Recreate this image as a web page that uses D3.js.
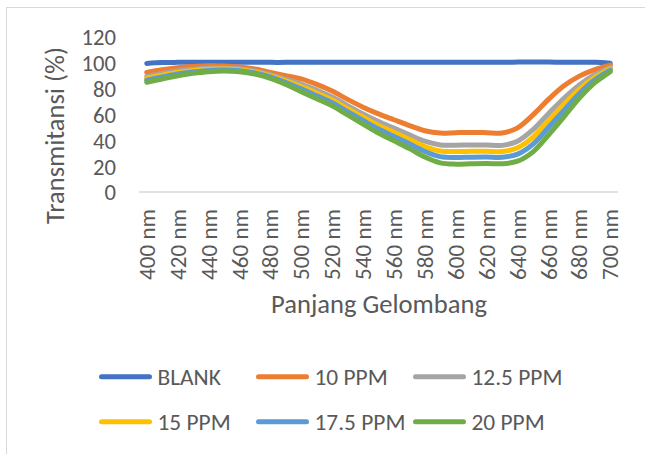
<!DOCTYPE html>
<html>
<head>
<meta charset="utf-8">
<script src="https://cdn.jsdelivr.net/npm/d3@7"></script>
<style>
  html, body { margin: 0; padding: 0; background: #ffffff; }
  svg { display: block; }
</style>
</head>
<body>
<svg id="chart" width="645" height="454"></svg>
<script>
// ---- data ----
const wavelengths = [400,410,420,430,440,450,460,470,480,490,500,510,520,530,540,550,560,570,580,590,600,610,620,630,640,650,660,670,680,690,700];
const tickLabels = ["400 nm","420 nm","440 nm","460 nm","480 nm","500 nm","520 nm","540 nm","560 nm","580 nm","600 nm","620 nm","640 nm","660 nm","680 nm","700 nm"];
const yTicks = [0,20,40,60,80,100,120];
const seriesNames = ["BLANK","10 PPM","12.5 PPM","15 PPM","17.5 PPM","20 PPM"];
const seriesColors = ["#4472C4","#ED7D31","#A5A5A5","#FFC000","#5B9BD5","#70AD47"];

const blank   = [99.3,100.0,100.1,100.1,100.2,100.1,100.2,100.2,100.1,100.1,100.2,100.2,100.2,100.2,100.2,100.2,100.2,100.2,100.2,100.2,100.2,100.2,100.2,100.2,100.3,100.3,100.3,100.2,100.2,100.1,99.4];
const ppm10   = [92.4,94.5,96.0,97.0,97.5,97.3,96.5,95.0,92.4,89.8,87.3,83.1,78.0,71.5,65.5,60.3,55.8,51.3,47.3,45.5,45.8,46.0,45.8,45.5,49.5,59.5,71.5,82.0,89.5,94.5,98.0];
const ppm12_5 = [89.3,91.6,93.5,94.8,95.7,95.7,95.1,93.4,90.6,87.1,83.4,78.7,73.4,66.7,60.3,54.4,49.3,44.2,39.2,36.3,36.1,36.3,36.3,36.0,39.2,48.1,60.5,72.4,82.7,90.5,96.0];
const ppm15   = [87.8,90.2,92.3,93.8,94.7,95.0,94.3,92.7,89.6,85.8,81.4,76.4,71.1,64.3,57.7,51.4,46.0,40.6,35.1,31.7,31.2,31.5,31.5,31.3,34.1,42.4,55.0,67.6,79.3,88.5,95.0];
const ppm17_5 = [86.3,88.8,91.1,92.7,93.9,94.2,93.7,91.9,88.8,84.5,79.6,74.3,68.9,62.0,55.2,48.6,42.9,37.2,31.3,27.3,26.6,26.9,27.0,26.8,29.2,37.0,49.8,63.0,76.1,86.6,94.1];
const ppm20   = [84.7,87.3,89.8,91.6,92.9,93.4,92.9,91.1,87.8,83.1,77.5,72.0,66.5,59.5,52.5,45.5,39.5,33.5,27.0,22.5,21.5,21.8,22.0,21.8,23.8,31.0,44.0,58.0,72.5,84.5,93.0];
const seriesValues = [blank, ppm10, ppm12_5, ppm15, ppm17_5, ppm20];

// ---- layout ----
const FONT = "Carlito, Calibri, Lato, 'Open Sans', sans-serif";
const TEXT = "#595959";
const svg = d3.select("#chart");

svg.append("rect").attr("x", 6.5).attr("y", 7.5).attr("width", 700).attr("height", 500)
   .attr("fill", "#ffffff").attr("stroke", "#D9D9D9").attr("stroke-width", 1);

const plot = { left: 139, right: 618, top: 36.6, bottom: 192 };

const x = d3.scalePoint().domain(wavelengths).range([plot.left, plot.right]).padding(0.5);
const y = d3.scaleLinear().domain([0, 120]).range([plot.bottom, plot.top]);

function fitSize(sel, target) {
  const w = sel.node().getComputedTextLength();
  const fs = parseFloat(sel.attr("font-size"));
  return fs * target / w;
}

// y axis labels
const yAxis = d3.axisLeft(y).tickValues(yTicks).tickSize(0).tickPadding(0);
const gy = svg.append("g").attr("transform", `translate(116,0)`).call(yAxis);
gy.select(".domain").remove();
gy.selectAll("text").attr("font-family", FONT).attr("font-size", 20).attr("fill", TEXT)
  .attr("x", 0).attr("dy", "0.35em");
{
  const t100 = gy.selectAll("text").filter(d => d === 100);
  const fs = fitSize(t100, 34.5);
  gy.selectAll("text").attr("font-size", fs);
}

// x axis line
const xAxis = d3.axisBottom(x).tickSize(0).tickFormat("");
const gx = svg.append("g").attr("transform", `translate(0,${plot.bottom})`).call(xAxis);
gx.select(".domain").attr("stroke", "#D9D9D9").attr("stroke-width", 1.5)
  .attr("d", `M${plot.left},0H${plot.right}`);
gx.selectAll(".tick").remove();

// x tick labels (every other category)
const shown = wavelengths.filter((w, i) => i % 2 === 0);
const xl = svg.append("g").selectAll("text").data(shown).join("text")
  .attr("transform", d => `translate(${x(d)},209) rotate(-90)`)
  .attr("text-anchor", "end").attr("dy", "0.35em")
  .attr("font-family", FONT).attr("font-size", 20).attr("fill", TEXT)
  .text((d, i) => tickLabels[i]);
{
  const fs = fitSize(xl.filter((d, i) => i === 0), 71);
  xl.attr("font-size", fs);
}

// axis titles
const yt = svg.append("text")
  .attr("transform", `translate(64,135.5) rotate(-90)`)
  .attr("text-anchor", "middle").attr("font-family", FONT).attr("font-size", 24).attr("fill", TEXT)
  .text("Transmitansi (%)");
yt.attr("font-size", fitSize(yt, 177));

const xt = svg.append("text")
  .attr("x", 379).attr("y", 313)
  .attr("text-anchor", "middle").attr("font-family", FONT).attr("font-size", 24).attr("fill", TEXT)
  .text("Panjang Gelombang");
xt.attr("font-size", fitSize(xt, 216));

// lines
const line = d3.line().x((d, i) => x(wavelengths[i])).y(d => y(d)).curve(d3.curveCatmullRom.alpha(0.5));
svg.append("g").selectAll("path").data(seriesValues).join("path")
  .attr("d", d => line(d))
  .attr("fill", "none")
  .attr("stroke", (d, i) => seriesColors[i])
  .attr("stroke-width", 5)
  .attr("stroke-linecap", "round")
  .attr("stroke-linejoin", "round");

// legend
const legCols = [101.5, 258.5, 415.5];
const legRows = [376.7, 421.7];
const leg = svg.append("g").selectAll("g").data(seriesNames).join("g")
  .attr("transform", (d, i) => `translate(${legCols[i % 3]},${legRows[Math.floor(i / 3)]})`);
leg.append("line").attr("x1", 0).attr("x2", 48).attr("y1", 0).attr("y2", 0)
  .attr("stroke", (d, i) => seriesColors[i]).attr("stroke-width", 5).attr("stroke-linecap", "round");
const legText = leg.append("text").attr("x", 56).attr("dy", "0.35em")
  .attr("font-family", FONT).attr("font-size", 20).attr("fill", TEXT)
  .text(d => d);
{
  const fs = fitSize(legText.filter(d => d === "12.5 PPM"), 91);
  legText.attr("font-size", fs);
}
</script>
</body>
</html>
